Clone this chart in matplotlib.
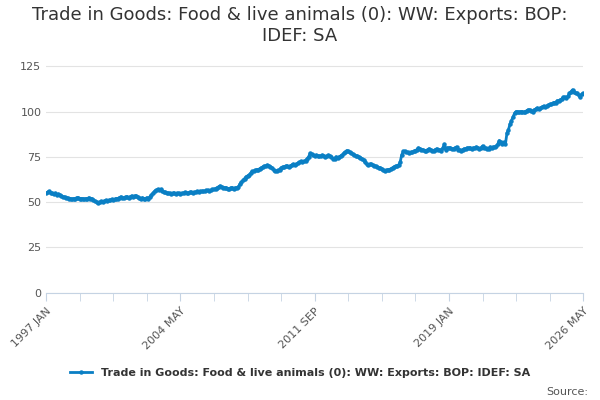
import matplotlib
matplotlib.use("Agg")
import matplotlib.pyplot as plt
import numpy as np
import pandas as pd

TITLE = "Trade in Goods: Food & live animals (0): WW: Exports: BOP:\nIDEF: SA"
LABEL = "Trade in Goods: Food & live animals (0): WW: Exports: BOP: IDEF: SA"
START = "1997-01"

# monthly values, one row per year (1997 .. 2026 May)
values = [
    55, 55.5, 56, 55, 55, 54.5, 55, 54, 54.5, 54, 53.5, 53,
    53, 52.5, 52.5, 52, 52, 51.5, 52, 52, 52.5, 52.5, 52, 52,
    52, 51.5, 52, 52, 52.5, 52, 52, 51, 50.5, 50, 49.5, 50,
    50.5, 50, 50.5, 51, 50.5, 51, 51, 51.5, 51, 51.5, 52, 52,
    52.5, 53, 52.5, 52.5, 53, 53, 52.5, 53, 53.5, 53, 53.5, 53.5,
    53, 52.5, 51.5, 52.5, 52, 52, 52.5, 52, 53, 54, 55, 56,
    56.5, 57, 56.5, 57, 56, 55.5, 55.5, 55, 55, 55, 54.5, 55,
    55, 54.5, 55, 55, 54.5, 55, 55, 55.5, 55, 55, 55.5, 55.5,
    55, 55.5, 55.5, 56, 55.5, 56, 56, 56, 56, 56.5, 56.5, 56,
    56.5, 57, 57, 57.5, 58, 58.5, 59, 58.5, 58, 58, 58, 57.5,
    57.5, 58, 58, 57.5, 58, 58, 58.5, 60, 61, 62, 63, 64,
    64.5, 65, 66, 67, 67, 67.5, 68, 68, 68.5, 69, 69.5, 70,
    70, 70.5, 70, 69.5, 69, 68, 67, 67, 67.5, 68, 69, 69.5,
    69.5, 70, 70, 69.5, 70, 70.5, 71, 70.5, 71, 71.5, 72, 72.5,
    72, 72.5, 73, 74, 75, 77, 76.5, 76, 75.5, 76, 75.5, 75.5,
    75.5, 76, 75.5, 75, 75.5, 76, 75.5, 75, 74, 74, 75, 74.5,
    75, 75.5, 76, 77, 77.5, 78.5, 78, 77.5, 77, 76.5, 76, 75.5,
    75.5, 75, 74.5, 74, 73.5, 72, 71, 70.5, 71, 71, 70.5, 70,
    70, 69.5, 69, 69, 68.5, 67.5, 67, 67.5, 68, 68, 68.5, 69,
    69.5, 70, 70, 70.5, 72, 76, 78, 78, 77.5, 77.5, 77, 77.5,
    77.5, 78, 78.5, 79, 80, 79.5, 79, 79, 78.5, 78.5, 79, 79.5,
    79, 78.5, 78.5, 79, 79.5, 79, 79, 78.5, 80, 82, 79, 80,
    80, 80, 79.5, 79.5, 80, 80.5, 79, 79, 78.5, 79, 79.5, 79.5,
    80, 80, 80, 79.5, 80, 80, 80.5, 80, 79.5, 80, 81, 80,
    80, 79.5, 79.5, 80.5, 80, 80.5, 80.5, 81, 82, 84, 83, 82,
    83, 82, 88, 90, 93, 95, 97, 99, 100, 100, 99.5, 100,
    100, 99.5, 100, 100.5, 101, 101, 100.5, 100, 101, 101.5, 102, 101.5,
    102, 102.5, 103, 102.5, 103, 103.5, 104, 104, 104.5, 105, 105, 106,
    106, 106.5, 107, 108, 108, 107.5, 108.5, 110, 111, 112, 111, 110,
    110, 109, 108, 109.5, 110,
]

COLOR = "#0a7fc4"

dates = pd.period_range(START, periods=len(values), freq="M")
x = np.arange(len(values))

fig, ax = plt.subplots(figsize=(6, 4), dpi=100)
fig.subplots_adjust(left=0.077, right=0.972, top=0.857, bottom=0.268)

ax.plot(x, values, color=COLOR, linewidth=2, marker="o", markersize=2.2, label=LABEL)

ax.set_xlim(0, len(values) - 1)
ax.set_ylim(0, 130)
ax.set_yticks([0, 25, 50, 75, 100, 125])
ax.tick_params(axis="y", length=0, labelsize=8, colors="#555555")
ax.grid(axis="y", color="#e3e3e3", linewidth=0.8)
ax.set_axisbelow(True)

ax.set_xticks(np.arange(0, len(values), 22), minor=True)
major = np.arange(0, len(values), 88)
ax.set_xticks(major)
ax.set_xticklabels([f"{d.year} {d.strftime('%b').upper()}" for d in dates[major]],
                   rotation=45, ha="right", rotation_mode="anchor", fontsize=8, color="#555555")
ax.tick_params(axis="x", which="both", length=6, color="#c5d3e3")

for s in ["left", "top", "right"]:
    ax.spines[s].set_visible(False)
ax.spines["bottom"].set_color("#c5d3e3")

fig.suptitle(TITLE, fontsize=13, color="#333333", y=0.985)
fig.legend(loc="lower center", bbox_to_anchor=(0.5, 0.03), frameon=False,
           prop={"size": 8, "weight": "bold"}, labelcolor="#333333", handlelength=2)
fig.text(0.98, 0.012, "Source:", ha="right", fontsize=8, color="#555555")

fig.savefig("out.png")
